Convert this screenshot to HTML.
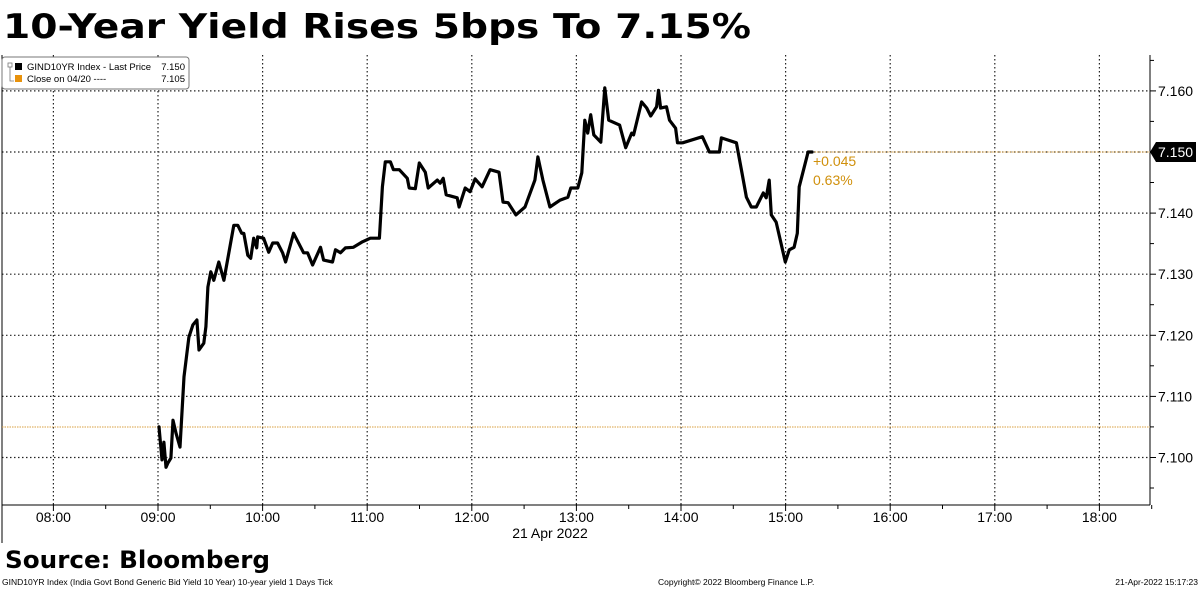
<!DOCTYPE html>
<html><head><meta charset="utf-8">
<style>
html,body{margin:0;padding:0;background:#fff;}
svg{display:block;font-family:"Liberation Sans","DejaVu Sans",sans-serif;background:#fff;}
</style></head>
<body>
<svg id="chart" width="1200" height="589" viewBox="0 0 1200 589" xmlns="http://www.w3.org/2000/svg">
<g id="grid"></g>
<g id="axes"></g>
<g id="series"></g>
<text x="3" y="38" font-family="DejaVu Sans, sans-serif" font-weight="bold" font-size="34" textLength="748" lengthAdjust="spacingAndGlyphs">10-Year Yield Rises 5bps To 7.15%</text>
<g>
  <rect x="2" y="57" width="187" height="32" rx="3" fill="#fff" stroke="#777" stroke-width="1"/>
  <rect x="8" y="63" width="4" height="4" fill="none" stroke="#777" stroke-width="0.8"/>
  <path d="M10 67 V81 H14" fill="none" stroke="#777" stroke-width="0.8"/>
  <rect x="15" y="63" width="7" height="7" fill="#000"/>
  <text x="27" y="70" font-size="9.5">GIND10YR Index - Last Price</text>
  <text x="185" y="70" font-size="9.5" text-anchor="end">7.150</text>
  <rect x="15" y="75" width="7" height="7" fill="#e8920c"/>
  <text x="27" y="82" font-size="9.5">Close on 04/20 ----</text>
  <text x="185" y="82" font-size="9.5" text-anchor="end">7.105</text>
</g>
<text x="813" y="166" font-size="14" fill="#d0900c">+0.045</text>
<text x="813" y="185" font-size="14" fill="#d0900c">0.63%</text>
<text x="550" y="538" font-size="14" text-anchor="middle">21 Apr 2022</text>
<text x="5" y="568" font-family="DejaVu Sans, sans-serif" font-weight="bold" font-size="24" textLength="265" lengthAdjust="spacingAndGlyphs">Source: Bloomberg</text>
<text x="2" y="585" font-size="8.5">GIND10YR Index (India Govt Bond Generic Bid Yield 10 Year) 10-year yield 1 Days  Tick</text>
<text x="658" y="585" font-size="8.5">Copyright© 2022 Bloomberg Finance L.P.</text>
<text x="1198" y="585" font-size="8.5" text-anchor="end">21-Apr-2022 15:17:23</text>
</svg>
<script>
const times = [0.6,2.3,3.4,4.6,5.7,7.4,8.6,10.3,12.6,14.9,17.7,20.0,22.3,23.5,26.3,27.5,28.6,30.3,32.0,34.9,37.8,43.5,45.8,48.0,49.2,51.5,53.2,54.9,56.6,57.2,60.6,63.5,65.8,68.6,71.5,73.2,77.8,83.5,85.8,88.7,93.2,95.0,100.1,101.8,104.7,107.5,112.1,117.3,121.8,127.0,128.7,130.4,133.3,135.0,138.4,143.0,144.1,147.6,149.9,153.3,155.0,160.2,161.9,163.6,165.3,171.6,172.7,176.2,179.0,181.9,185.9,190.5,195.6,197.9,200.8,205.3,210.5,216.2,217.9,220.8,224.8,230.5,235.1,236.8,240.8,243.1,244.8,246.5,248.2,250.0,254.0,256.3,258.5,264.8,268.3,271.7,272.8,277.4,280.3,282.6,286.0,287.1,288.3,291.7,293.4,296.9,298.0,300.9,312.3,316.3,322.0,323.2,331.8,335.2,337.5,340.3,343.2,347.2,348.9,350.6,351.8,354.6,359.8,362.1,364.9,366.7,367.8,372.9,375.2];
const yields = [7.1050,7.0996,7.1025,7.0984,7.0991,7.0999,7.1061,7.1040,7.1017,7.1132,7.1197,7.1217,7.1225,7.1176,7.1187,7.1214,7.1279,7.1304,7.1290,7.1320,7.1290,7.1380,7.1380,7.1367,7.1367,7.1331,7.1326,7.1359,7.1343,7.1361,7.1359,7.1336,7.1351,7.1351,7.1335,7.1320,7.1367,7.1335,7.1335,7.1315,7.1344,7.1323,7.1320,7.1340,7.1335,7.1343,7.1344,7.1353,7.1359,7.1359,7.1443,7.1484,7.1484,7.1471,7.1471,7.1457,7.1441,7.1440,7.1482,7.1467,7.1441,7.1454,7.1449,7.1457,7.1430,7.1425,7.1410,7.1441,7.1435,7.1456,7.1443,7.1471,7.1467,7.1418,7.1417,7.1397,7.1410,7.1454,7.1492,7.1454,7.1410,7.1421,7.1426,7.1441,7.1441,7.1466,7.1552,7.1531,7.1561,7.1528,7.1516,7.1605,7.1552,7.1544,7.1507,7.1531,7.1528,7.1582,7.1572,7.1559,7.1574,7.1601,7.1572,7.1574,7.1552,7.1539,7.1515,7.1515,7.1525,7.1500,7.1500,7.1523,7.1515,7.1462,7.1426,7.1410,7.1410,7.1433,7.1425,7.1454,7.1397,7.1385,7.1320,7.1340,7.1344,7.1367,7.1443,7.1500,7.1500];
const xTickHours = [8,9,10,11,12,13,14,15,16,17,18];
const xTickLabels = ["08:00","09:00","10:00","11:00","12:00","13:00","14:00","15:00","16:00","17:00","18:00"];
const yTicks = [7.100,7.110,7.120,7.130,7.140,7.150,7.160];
const yTickLabels = ["7.100","7.110","7.120","7.130","7.140","7.150","7.160"];
const prevClose = 7.105;
const lastPrice = 7.150;
const lastLabel = "7.150";

const NS = "http://www.w3.org/2000/svg";
const L = 2, R = 1150, T = 55, B = 505;
function xHour(h){ return 158 + (h - 9) * 104.6; }
function xMin(m){ return xHour(9 + m / 60); }
function yVal(v){ return 152 + (7.15 - v) * 6110; }
function mk(tag, attrs, parent){
  const e = document.createElementNS(NS, tag);
  for (const k in attrs) e.setAttribute(k, attrs[k]);
  parent.appendChild(e);
  return e;
}
const grid = document.getElementById('grid');
const axes = document.getElementById('axes');
const series = document.getElementById('series');

yTicks.forEach((v,i)=>{
  const y = yVal(v);
  const g = mk('line',{x1:L,x2:R,y1:y,y2:y,stroke:'#222','stroke-width':1.2,'stroke-dasharray':'1.5,2.5'},grid);
  
  
  mk('line',{x1:R,x2:R+6,y1:y,y2:y,stroke:'#000'},axes);
  mk('line',{x1:R,x2:R+4,y1:y+30.5,y2:y+30.5,stroke:'#000'},axes);
  if (v !== lastPrice) {
    const t = mk('text',{x:R+8,y:y+5,'font-size':14},axes);
    t.textContent = yTickLabels[i];
    
    
  }
});
mk('line',{x1:R,x2:R+4,y1:yVal(7.160)-30.5,y2:yVal(7.160)-30.5,stroke:'#000'},axes);

xTickHours.forEach((h,i)=>{
  const x = xHour(h);
  const g = mk('line',{x1:x,x2:x,y1:T,y2:B,stroke:'#222','stroke-width':1.2,'stroke-dasharray':'1.5,2.5'},grid);
  
  
  mk('line',{x1:x,x2:x,y1:B,y2:B+6,stroke:'#000'},axes);
  mk('line',{x1:x+52.3,x2:x+52.3,y1:B,y2:B+4,stroke:'#000'},axes);
  const t = mk('text',{x:x,y:B+17,'font-size':14,'text-anchor':'middle'},axes);
  t.textContent = xTickLabels[i];
  
  
});

mk('line',{x1:L,x2:R,y1:B,y2:B,stroke:'#000','stroke-width':1},axes);
mk('line',{x1:R,x2:R,y1:T,y2:B,stroke:'#000','stroke-width':1},axes);
mk('line',{x1:L,x2:L,y1:T,y2:543,stroke:'#000','stroke-width':1},axes);

const pc = mk('line',{x1:L,x2:R,y1:yVal(prevClose),y2:yVal(prevClose),stroke:'#d9a040','stroke-width':1,'stroke-dasharray':'1.5,1'},series);


const lp = mk('line',{x1:xMin(times[times.length-1]),x2:R,y1:yVal(lastPrice),y2:yVal(lastPrice),stroke:'#d9a040','stroke-width':1,'stroke-dasharray':'1.5,1'},series);



const pts = times.map((t,i)=> xMin(t).toFixed(1)+','+yVal(yields[i]).toFixed(1)).join(' ');
const pl = mk('polyline',{points:pts,fill:'none',stroke:'#000','stroke-width':3.2,'stroke-linejoin':'round','stroke-linecap':'round'},series);



const ly = yVal(lastPrice);
const tag = mk('path',{d:`M${R} ${ly} L${R+6} ${ly-10} H1196 V${ly+10} H${R+6} Z`,fill:'#000'},axes);


const tt = mk('text',{x:R+8,y:ly+5,'font-size':14,fill:'#fff'},axes);
tt.textContent = lastLabel;


</script>
</body></html>
